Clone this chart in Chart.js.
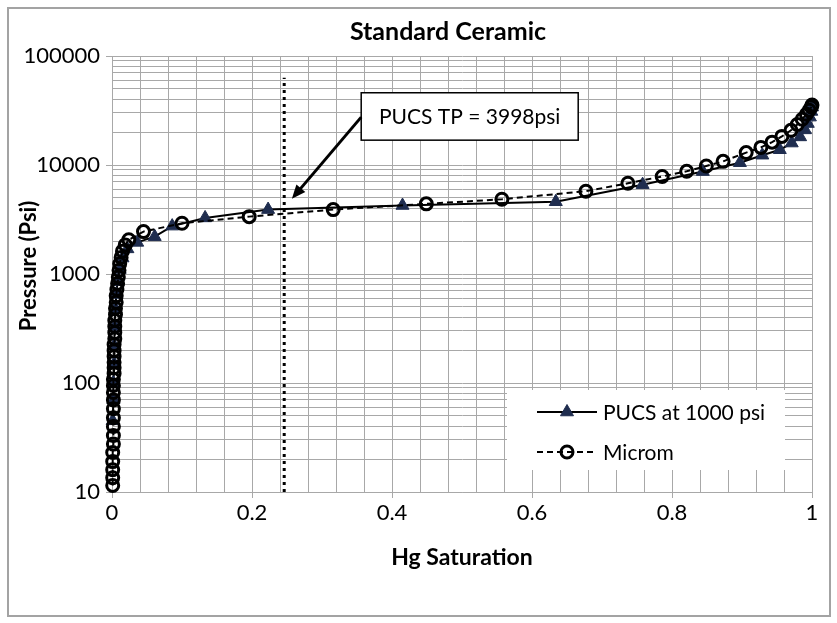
<!DOCTYPE html>
<html lang="en">
<head>
  <meta charset="utf-8">
  <title>Standard Ceramic</title>
  <script src="https://cdn.jsdelivr.net/npm/chart.js"></script>
  <style>
    * { box-sizing:border-box; margin:0; padding:0 }
    html, body { width:837px; height:623px; background:#fff; overflow:hidden }
    #frame { position:absolute; left:7px; top:7px; width:824px; height:610px; border:2px solid #a3a3a3 }
    #wrap { position:absolute; left:0; top:0; width:837px; height:623px }
  </style>
</head>
<body>
  <div id="frame"></div>
  <div id="wrap"><canvas id="chart" width="837" height="623"></canvas></div>

  <script>
  // ===== DATA =====
  const pucsSat = [0.001, 0.002, 0.002, 0.003, 0.003, 0.004, 0.005, 0.006, 0.008, 0.011,
                   0.015, 0.022, 0.036, 0.061, 0.086, 0.133, 0.223, 0.415, 0.634, 0.758,
                   0.844, 0.897, 0.929, 0.954, 0.971, 0.983, 0.990, 0.994, 0.997, 0.999, 1.000];
  const pucsPsi = [45, 70, 100, 150, 220, 330, 480, 650, 850, 1100,
                   1400, 1700, 1950, 2200, 2750, 3270, 3900, 4250, 4600, 6600,
                   8700, 10500, 12300, 13800, 15900, 18100, 21000, 24000, 27500, 31000, 34000];

  const micromSat = [0.001, 0.001, 0.001, 0.001, 0.001, 0.002, 0.002, 0.002, 0.002, 0.002,
                     0.002, 0.002, 0.002, 0.002, 0.003, 0.003, 0.003, 0.003, 0.003, 0.003,
                     0.004, 0.004, 0.004, 0.004, 0.005, 0.005, 0.006, 0.006, 0.007, 0.008,
                     0.009, 0.010, 0.011, 0.013, 0.015, 0.019, 0.024, 0.045, 0.100, 0.196,
                     0.316, 0.449, 0.557, 0.677, 0.737, 0.786, 0.821, 0.849, 0.873, 0.906,
                     0.927, 0.943, 0.957, 0.970, 0.979, 0.986, 0.992, 0.996, 0.999, 1.000];
  const micromPsi = [11.5, 13.5, 16, 19, 23, 27.5, 33, 40, 48, 58,
                     70, 82, 95, 108, 122, 138, 155, 175, 198, 225,
                     255, 290, 330, 375, 425, 485, 550, 630, 720, 820,
                     940, 1080, 1240, 1420, 1620, 1850, 2060, 2450, 2920, 3360,
                     3900, 4400, 4850, 5750, 6800, 7850, 8750, 9800, 10800, 13000,
                     14500, 16200, 18300, 20800, 23500, 26300, 29200, 31800, 34000, 35500];

  // PUCS threshold pressure marker (dotted vertical line)
  const tpSat = [0.246, 0.246];
  const tpPsi = [10, 63000];

  const seriesNames  = ['PUCS at 1000 psi', 'Microm'];
  const xTickLabels  = ['0', '0.2', '0.4', '0.6', '0.8', '1'];
  const yTickLabels  = ['10', '100', '1000', '10000', '100000'];
  const chartTitle   = 'Standard Ceramic';
  const yTitle       = 'Pressure (Psi)';
  const annotText    = 'PUCS TP = 3998psi';

  // ===== Helpers =====
  const FONT = 'Lato, "Open Sans", sans-serif';
  const GRID = '#a8a8a8';
  const pts = (xs, ys) => xs.map((x, i) => ({ x, y: ys[i] }));

  // chart title + y title, placed like the Excel original
  const titles = {
    id: 'titles',
    afterDraw(chart) {
      const ctx = chart.ctx, a = chart.chartArea;
      ctx.save();
      ctx.fillStyle = '#000';
      ctx.textAlign = 'center';
      ctx.textBaseline = 'middle';
      ctx.font = 'bold 25px ' + FONT;
      ctx.fillText(chartTitle, (a.left + a.right) / 2 - 14, 32);
      ctx.translate(29, (a.top + a.bottom) / 2 - 8);
      ctx.rotate(-Math.PI / 2);
      ctx.font = 'bold 22px ' + FONT;
      ctx.fillText(yTitle, 0, 0);
      ctx.restore();
    }
  };

  // legend drawn inside the plot area, bottom right
  const boxLegend = {
    id: 'boxLegend',
    afterDatasetsDraw(chart) {
      const ctx = chart.ctx, a = chart.chartArea;
      const left = a.right - 305, top = a.bottom - 102;
      ctx.save();
      ctx.fillStyle = '#fff';
      ctx.fillRect(left, top, 278, 80);
      [0, 1].forEach(i => {
        const ds = chart.data.datasets[i];
        const y = top + 22 + i * 40;
        ctx.strokeStyle = ds.borderColor;
        ctx.lineWidth = ds.borderWidth;
        ctx.setLineDash(ds.borderDash || []);
        ctx.beginPath(); ctx.moveTo(left + 30, y); ctx.lineTo(left + 90, y); ctx.stroke();
        ctx.setLineDash([]);
        ctx.fillStyle = ds.pointBackgroundColor;
        ctx.strokeStyle = ds.pointBorderColor;
        ctx.lineWidth = ds.pointBorderWidth;
        Chart.helpers.drawPoint(ctx, {
          pointStyle: ds.pointStyle, radius: ds.pointRadius, rotation: 0, borderWidth: ds.pointBorderWidth
        }, left + 60, y);
        ctx.fillStyle = '#000';
        ctx.font = '21px ' + FONT;
        ctx.textBaseline = 'middle';
        ctx.textAlign = 'left';
        ctx.fillText(seriesNames[i], left + 96, y + 1);
      });
      ctx.restore();
    }
  };

  // callout box + arrow pointing at the threshold
  const callout = {
    id: 'callout',
    afterDatasetsDraw(chart) {
      const ctx = chart.ctx, xs = chart.scales.x, ys = chart.scales.y;
      const bx1 = xs.getPixelForValue(0.356), bx2 = xs.getPixelForValue(0.666);
      const by1 = ys.getPixelForValue(46000), by2 = ys.getPixelForValue(16900);
      ctx.save();
      ctx.fillStyle = '#fff';
      ctx.strokeStyle = '#000';
      ctx.lineWidth = 1.5;
      ctx.fillRect(bx1, by1, bx2 - bx1, by2 - by1);
      ctx.strokeRect(bx1, by1, bx2 - bx1, by2 - by1);
      ctx.fillStyle = '#000';
      ctx.font = '21px ' + FONT;
      ctx.textAlign = 'center';
      ctx.textBaseline = 'middle';
      ctx.fillText(annotText, (bx1 + bx2) / 2, (by1 + by2) / 2 + 1);

      // arrow
      const x1 = bx1, y1 = ys.getPixelForValue(27500);
      const x2 = xs.getPixelForValue(0.257), y2 = ys.getPixelForValue(4900);
      const ang = Math.atan2(y2 - y1, x2 - x1), head = 15;
      ctx.lineWidth = 3;
      ctx.beginPath();
      ctx.moveTo(x1, y1);
      ctx.lineTo(x2 - Math.cos(ang) * head * 0.8, y2 - Math.sin(ang) * head * 0.8);
      ctx.stroke();
      ctx.beginPath();
      ctx.moveTo(x2, y2);
      ctx.lineTo(x2 - head * Math.cos(ang - 0.4), y2 - head * Math.sin(ang - 0.4));
      ctx.lineTo(x2 - head * Math.cos(ang + 0.4), y2 - head * Math.sin(ang + 0.4));
      ctx.closePath();
      ctx.fill();
      ctx.restore();
    }
  };

  // ===== Chart =====
  new Chart(document.getElementById('chart'), {
    type: 'scatter',
    data: {
      datasets: [
        {
          label: seriesNames[0], data: pts(pucsSat, pucsPsi), showLine: true, clip: false,
          borderColor: '#000', borderWidth: 2, tension: 0,
          pointStyle: 'triangle', pointRadius: 7.5, pointBorderWidth: 1,
          pointBackgroundColor: '#1f2d4f', pointBorderColor: '#1f2d4f', order: 2
        },
        {
          label: seriesNames[1], data: pts(micromSat, micromPsi), showLine: true, clip: false,
          borderColor: '#000', borderWidth: 2, borderDash: [6, 4], tension: 0,
          pointStyle: 'circle', pointRadius: 6, pointBorderWidth: 3,
          pointBackgroundColor: 'rgba(255,255,255,0)', pointBorderColor: '#000', order: 1
        },
        {
          label: 'TP', data: pts(tpSat, tpPsi), showLine: true,
          borderColor: '#000', borderWidth: 3, borderDash: [3, 4], pointRadius: 0, order: 3
        }
      ]
    },
    options: {
      responsive: false,
      animation: false,
      layout: { padding: { top: 56, left: 10, right: 25, bottom: 30 } },
      plugins: {
        legend: { display: false },
        tooltip: { enabled: false },
        title: { display: false }
      },
      scales: {
        x: {
          type: 'linear', min: 0, max: 1,
          afterFit: s => { s.height = 101; },
          afterBuildTicks: s => {
            s.ticks = [];
            for (let i = 0; i <= 25; i++) s.ticks.push({ value: i * 0.04 });
          },
          ticks: {
            autoSkip: false, maxRotation: 0, padding: 2, color: '#000',
            font: { family: FONT, size: 22 },
            callback: (v, i) => (i % 5 === 0 ? xTickLabels[i / 5] : '')
          },
          grid: {
            color: GRID, lineWidth: 1, tickLength: 6,
            tickColor: c => (c.index % 5 === 0 ? GRID : 'rgba(0,0,0,0)')
          },
          border: { color: GRID, width: 1 },
          title: {
            display: true, text: 'Hg Saturation', color: '#000',
            font: { family: FONT, size: 23, weight: 'bold' },
            padding: { top: 0, bottom: 22 }
          }
        },
        y: {
          type: 'logarithmic', min: 10, max: 100000,
          afterFit: s => { s.width = 102; },
          afterBuildTicks: s => {
            s.ticks = [];
            for (let e = 1; e <= 5; e++) {
              for (let m = 1; m <= 9; m++) {
                const v = m * Math.pow(10, e);
                if (v <= 100000) s.ticks.push({ value: v, major: m === 1 });
              }
            }
          },
          ticks: {
            autoSkip: false, padding: 6, color: '#000',
            font: { family: FONT, size: 22 },
            callback: v => (yTickLabels.includes(String(v)) ? String(v) : '')
          },
          grid: {
            color: GRID, lineWidth: 1, tickLength: 6,
            tickColor: c => (c.tick && yTickLabels.includes(String(c.tick.value)) ? GRID : 'rgba(0,0,0,0)')
          },
          border: { color: GRID, width: 1 }
        }
      }
    },
    plugins: [boxLegend, callout, titles]
  });
  </script>
</body>
</html>
